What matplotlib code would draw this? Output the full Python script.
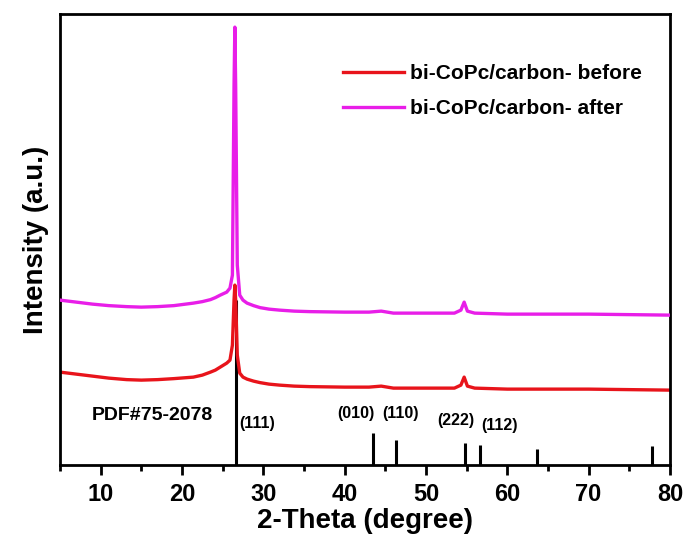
import matplotlib
matplotlib.use("Agg")
import matplotlib.pyplot as plt

plt.rcParams['font.family'] = ['Liberation Sans', 'DejaVu Sans']
plt.rcParams['font.weight'] = 'bold'

# XRD patterns (2-theta in degrees, intensity in arbitrary units)
theta = [5, 7, 9, 11, 13.2, 15, 17, 19, 21.4, 22.5, 23.5, 24.1, 24.7, 25.5, 25.9, 26.2, 26.4, 26.5, 26.6, 26.8,
         27.1, 27.5, 28, 28.8, 29.6, 30.7, 32, 33.8, 35.7, 40, 43, 44.5, 46, 50, 53.5, 54.3, 54.7, 55.1, 56, 60,
         70, 80]
int_before = [93, 91, 89, 87, 85.5, 85, 85.5, 86.5, 88, 90, 93, 95, 98, 102, 105, 120, 165, 180, 165, 110,
              92, 88, 86, 84, 82.5, 81, 80, 79, 78.5, 78, 78, 79, 77, 77, 77, 80, 88, 79, 77, 76,
              76, 75]
int_after = [165, 163, 161, 159.5, 158.5, 158, 158.5, 159.5, 162, 163.5, 165.5, 167.5, 170, 173, 177, 190, 380, 438, 380, 200,
             170, 165, 162, 159.5, 157.5, 156, 155, 154, 153.5, 153, 153, 154, 152, 152, 152, 155, 163, 154, 152, 151,
             151, 150]

# reference pattern PDF#75-2078
ref_pos = [26.6, 43.5, 46.3, 54.8, 56.6, 63.6, 77.8]
ref_int = [165, 32, 25, 22, 20, 16, 19]
hkl_labels = ['(111)', '(010)', '(110)', '(222)', '(112)']
hkl_pos = [(27.0, 42), (39.1, 52), (44.6, 52), (51.4, 45), (56.8, 40)]

fig = plt.figure(figsize=(6.86, 5.44), dpi=100)
ax = fig.add_axes([0.0875, 0.145, 0.889, 0.829])

ax.vlines(ref_pos, 0, ref_int, color='black', lw=2.2, zorder=1)
ax.plot(theta, int_before, color='#e8141b', lw=2.4, label='bi-CoPc/carbon- before', zorder=2)
ax.plot(theta, int_after, color='#e81ee8', lw=2.4, label='bi-CoPc/carbon- after', zorder=3)

for lab, (x, y) in zip(hkl_labels, hkl_pos):
    ax.text(x, y, lab, fontsize=11.5, fontweight='bold', ha='left', va='center')
ax.text(16.4, 50, 'PDF#75-2078', fontsize=14, fontweight='bold', ha='center', va='center')

ax.set_xlim(5, 80)
ax.set_ylim(0, 451)
ax.set_xticks(range(10, 81, 10))
ax.set_xticks(range(5, 81, 10), minor=True)
ax.set_yticks([])
ax.tick_params(axis='x', which='major', direction='out', length=7, width=2, labelsize=17, pad=6)
ax.tick_params(axis='x', which='minor', direction='out', length=4, width=2)
for lab in ax.get_xticklabels():
    lab.set_fontweight('bold')
for sp in ax.spines.values():
    sp.set_linewidth(2)

ax.set_xlabel('2-Theta (degree)', fontsize=20, fontweight='bold', labelpad=1)
ax.set_ylabel('Intensity (a.u.)', fontsize=20, fontweight='bold', labelpad=8)

ax.legend(loc='upper right', bbox_to_anchor=(0.985, 0.93), frameon=False,
          handlelength=2.9, handletextpad=0.3, labelspacing=0.75, prop={'weight': 'bold', 'size': 15})

fig.savefig('out.png', dpi=100)
